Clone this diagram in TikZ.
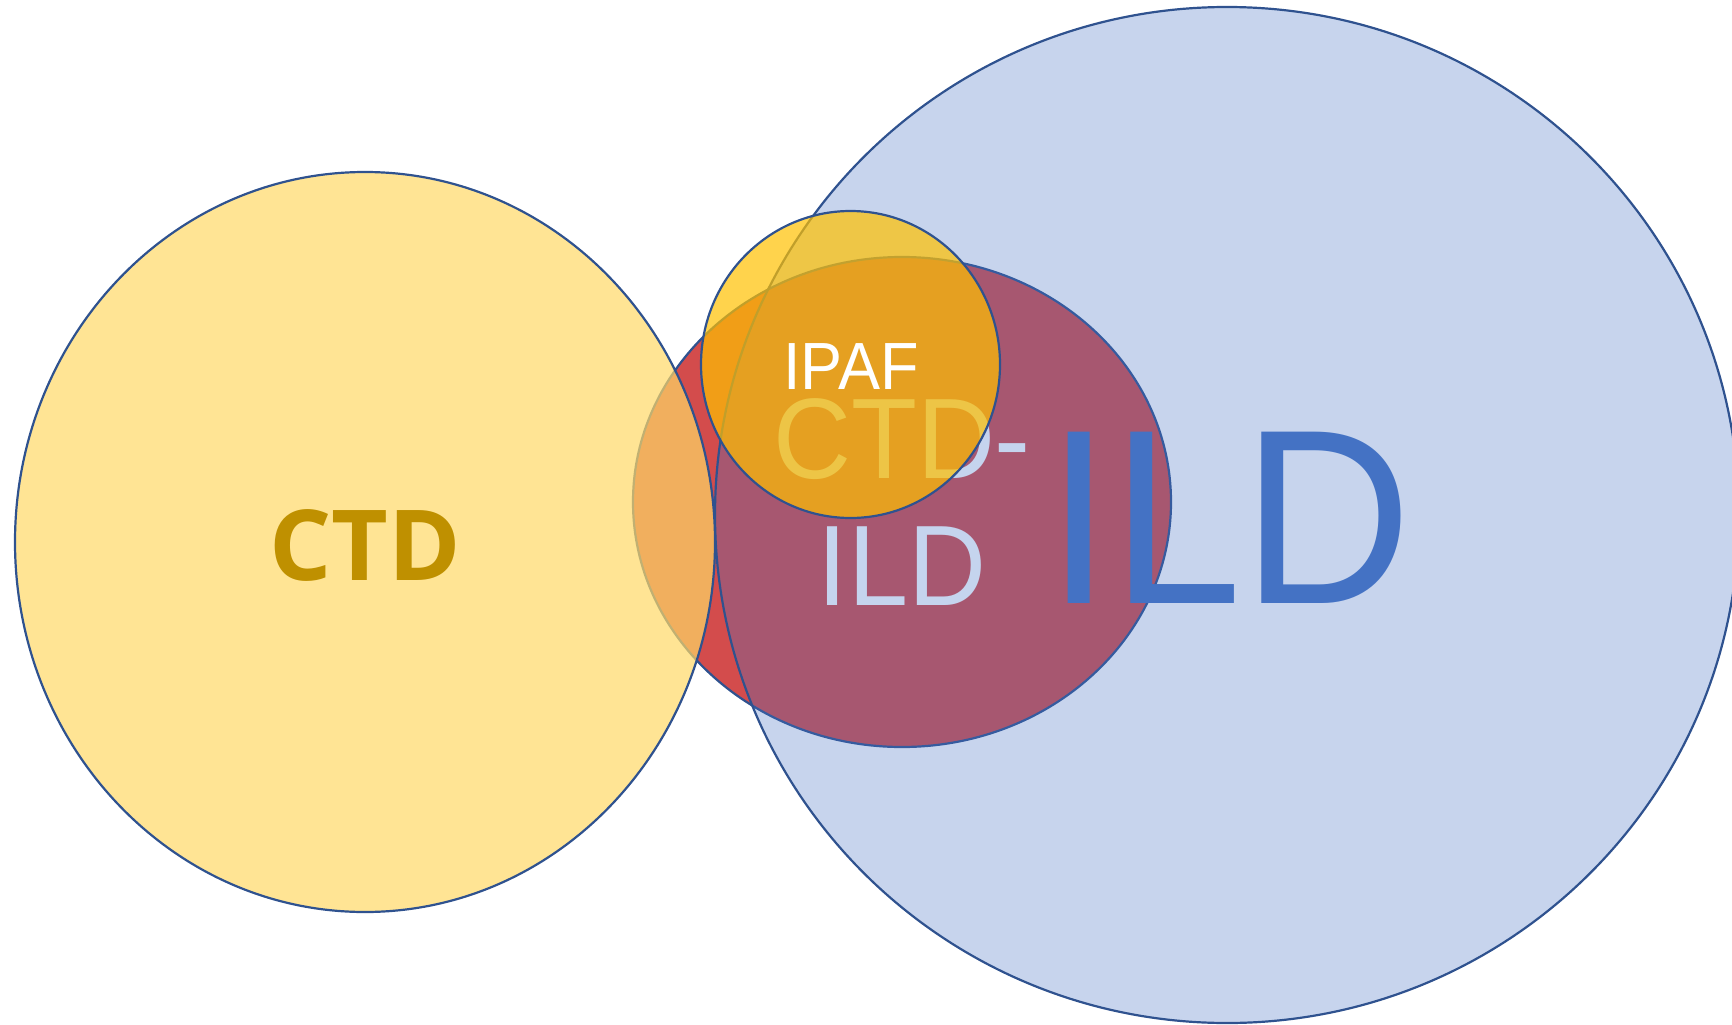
\documentclass[tikz,border=0pt]{standalone}
\usepackage{graphicx}
\usepackage{fontspec}
\setmainfont{Liberation Sans}
\newfontfamily\ctdfont{Open Sans}
\usetikzlibrary{shapes.geometric}
\definecolor{edgeblue}{HTML}{2F528F}
\definecolor{redset}{HTML}{C00000}
\definecolor{ildset}{HTML}{4472C4}
\definecolor{ctdset}{HTML}{FFD966}
\definecolor{ipafset}{HTML}{FFC000}
\definecolor{ctdtext}{HTML}{BF9000}
\definecolor{overlaptext}{HTML}{C5D4EE}
% slightly taller glyphs for the labels
\newcommand{\tallcaps}[1]{\scalebox{1}[1.06]{#1}}
\begin{document}
\begin{tikzpicture}[x=1pt,y=-1pt,
  setshape/.style={ellipse, draw=edgeblue, line width=2.2pt, inner sep=0pt, outer sep=0pt},
  setlabel/.style={inner sep=0pt, outer sep=0pt, anchor=base}]
\useasboundingbox (0,0) rectangle (1732,1025);
\clip (0,0) rectangle (1732,1025);

% sets, back to front
\node[setshape, fill=redset, fill opacity=0.7,
      minimum width=538pt, minimum height=490pt] (both) at (902,502) {};
\node[setshape, fill=ildset, fill opacity=0.3,
      minimum width=1024pt, minimum height=1016pt] (ild) at (1227,515) {};
\node[setshape, fill=ctdset, fill opacity=0.7,
      minimum width=700pt, minimum height=740pt] (ctd) at (365,542) {};

% label of the overlap, partly covered by the IPAF set
\node[setlabel, text=overlaptext, font=\fontsize{108}{127}\selectfont] (bothA) at (902,478) {\tallcaps{CTD-}};
\node[setlabel, text=overlaptext, font=\fontsize{108}{127}\selectfont] (bothB) at (902,605) {\tallcaps{ILD}};

\node[setshape, fill=ipafset, fill opacity=0.7,
      minimum width=299pt, minimum height=307pt] (ipaf) at (850.5,364.5) {};

% labels
\node[setlabel, text=white, font=\fontsize{63}{70}\selectfont] (ipaflabel) at (851,389) {\tallcaps{IPAF}};
\node[setlabel, text=ildset, font=\fontsize{235}{260}\selectfont] (ildlabel) at (1229,603) {\tallcaps{ILD}};
\node[setlabel, text=ctdtext, font=\ctdfont\bfseries\fontsize{98}{110}\selectfont] (ctdlabel) at (365,580) {CTD};
\end{tikzpicture}
\end{document}
